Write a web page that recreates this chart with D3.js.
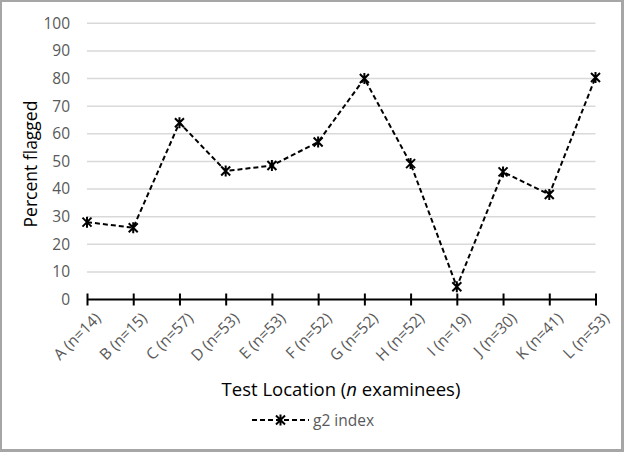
<!DOCTYPE html>
<html><head><meta charset="utf-8">
<script src="https://cdn.jsdelivr.net/npm/d3@7"></script>
<style>body{margin:0;background:#fff}svg{display:block}</style>
</head><body>
<script>
const categories = ["A (n=14)","B (n=15)","C (n=57)","D (n=53)","E (n=53)","F (n=52)","G (n=52)","H (n=52)","I (n=19)","J (n=30)","K (n=41)","L (n=53)"];
const g2Index = [28, 26, 64, 46.5, 48.5, 57, 80, 49.2, 4.6, 46.2, 38, 80.4];
const yTicks = [0,10,20,30,40,50,60,70,80,90,100];
const seriesName = "g2 index";

const W = 624, H = 452;
const FONT = "'Open Sans', sans-serif";
const svg = d3.select("body").append("svg").attr("width", W).attr("height", H);
svg.append("rect").attr("width", W).attr("height", H).attr("fill", "#a6a6a6");
svg.append("rect").attr("x", 2).attr("y", 2).attr("width", 619).attr("height", 447).attr("fill", "#fff");

const x = d3.scalePoint().domain(categories).range([87, 595.5]);
const y = d3.scaleLinear().domain([0, 100]).range([299.5, 23.3]);

// gridlines
svg.append("g").selectAll("line").data(yTicks.filter(d => d > 0)).join("line")
  .attr("x1", 87).attr("x2", 595.5)
  .attr("y1", d => y(d)).attr("y2", d => y(d))
  .attr("stroke", "#d9d9d9").attr("stroke-width", 1.5);

// y axis labels
const yAxis = d3.axisLeft(y).tickValues(yTicks).tickSize(0).tickPadding(17);
const gy = svg.append("g").attr("transform", "translate(87,0)").call(yAxis);
gy.select(".domain").remove();
gy.selectAll("text").attr("fill", "#595959").style("font-family", FONT).style("font-size", "15.5px");

// x axis
const xAxis = d3.axisBottom(x).tickSizeInner(6).tickSizeOuter(0).tickFormat("");
const gx = svg.append("g").attr("transform", `translate(0,${y(0)})`).call(xAxis);
gx.select(".domain").attr("stroke", "#000").attr("stroke-width", 2).attr("d", `M87,0H595.5`);
gx.selectAll(".tick line").attr("stroke", "#000").attr("stroke-width", 2).attr("y1", -6).attr("y2", 6);

// x labels rotated
svg.append("g").selectAll("text").data(categories).join("text")
  .attr("transform", d => `translate(${x(d) + 7},${y(0) + 12}) rotate(-45)`)
  .attr("text-anchor", "end")
  .attr("dy", "0.7em")
  .attr("fill", "#595959").style("font-family", FONT).style("font-size", "15.5px")
  .text(d => d);

// axis titles
svg.append("text").attr("transform", "translate(37,164) rotate(-90)")
  .attr("text-anchor", "middle").attr("fill", "#000")
  .style("font-family", FONT).style("font-size", "17.5px").text("Percent flagged");

const xt = svg.append("text").attr("x", 341).attr("y", 396).attr("text-anchor", "middle")
  .attr("fill", "#000").style("font-family", FONT).style("font-size", "18.5px");
xt.append("tspan").text("Test Location (");
xt.append("tspan").style("font-style", "italic").text("n");
xt.append("tspan").text(" examinees)");

// line
const line = d3.line().x((d, i) => x(categories[i])).y(d => y(d));
svg.append("path").datum(g2Index).attr("d", line)
  .attr("fill", "none").attr("stroke", "#000").attr("stroke-width", 2)
  .attr("stroke-dasharray", "5,3");

function star(g, cx, cy) {
  const s = 4.5;
  g.append("path").attr("d", `M${cx - s},${cy - s}L${cx + s},${cy + s}M${cx - s},${cy + s}L${cx + s},${cy - s}M${cx},${cy - s - 1}L${cx},${cy + s + 1}`)
    .attr("stroke", "#000").attr("stroke-width", 2).attr("fill", "none");
}
const mg = svg.append("g");
g2Index.forEach((v, i) => star(mg, x(categories[i]), y(v)));

// legend
const lg = svg.append("g");
lg.append("line").attr("x1", 252).attr("x2", 309).attr("y1", 420).attr("y2", 420)
  .attr("stroke", "#000").attr("stroke-width", 2).attr("stroke-dasharray", "5,3");
star(lg, 280.5, 420);
lg.append("text").attr("x", 313).attr("y", 425.5).attr("fill", "#595959")
  .style("font-family", FONT).style("font-size", "15.5px").text(seriesName);
</script>
</body></html>
